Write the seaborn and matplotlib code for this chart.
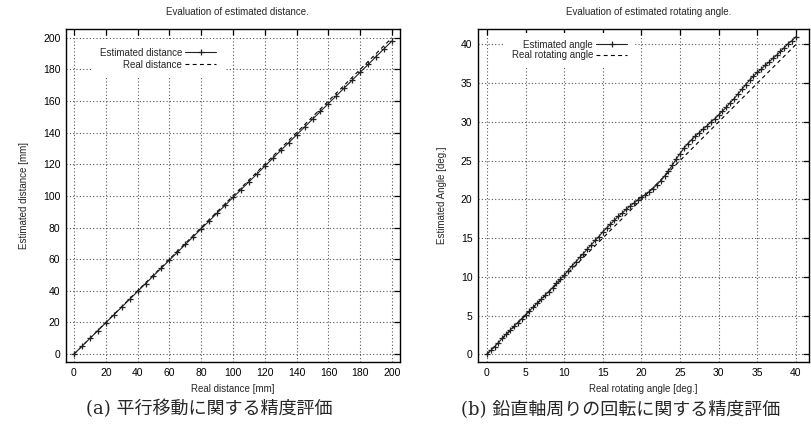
import numpy as np
import pandas as pd
import matplotlib
matplotlib.use("Agg")
import matplotlib.pyplot as plt
import seaborn as sns

# ---------------- data ----------------
real_dist = [0, 5, 10, 15, 20, 25, 30, 35, 40, 45, 50, 55, 60, 65, 70, 75, 80, 85, 90, 95,
             100, 105, 110, 115, 120, 125, 130, 135, 140, 145, 150, 155, 160, 165, 170, 175,
             180, 185, 190, 195, 200]
est_dist = [0.0, 4.9, 9.9, 14.8, 19.8, 24.7, 29.7, 34.6, 39.6, 44.5, 49.5, 54.4, 59.4, 64.3,
            69.3, 74.2, 79.2, 84.1, 89.1, 94.0, 99.0, 103.9, 108.9, 113.8, 118.8, 123.7,
            128.7, 133.6, 138.6, 143.5, 148.5, 153.4, 158.4, 163.3, 168.3, 173.2, 178.2,
            183.1, 188.1, 193.0, 198.0]

real_angle = [0.0, 0.5, 1.0, 1.5, 2.0, 2.5, 3.0, 3.5, 4.0, 4.5, 5.0, 5.5, 6.0, 6.5, 7.0, 7.5,
              8.0, 8.5, 9.0, 9.5, 10.0, 10.5, 11.0, 11.5, 12.0, 12.5, 13.0, 13.5, 14.0, 14.5,
              15.0, 15.5, 16.0, 16.5, 17.0, 17.5, 18.0, 18.5, 19.0, 19.5, 20.0, 20.5, 21.0,
              21.5, 22.0, 22.5, 23.0, 23.5, 24.0, 24.5, 25.0, 25.5, 26.0, 26.5, 27.0, 27.5,
              28.0, 28.5, 29.0, 29.5, 30.0, 30.5, 31.0, 31.5, 32.0, 32.5, 33.0, 33.5, 34.0,
              34.5, 35.0, 35.5, 36.0, 36.5, 37.0, 37.5, 38.0, 38.5, 39.0, 39.5, 40.0]
est_angle = [0.0, 0.5, 1.0, 1.5, 2.1, 2.6, 3.1, 3.6, 4.1, 4.6, 5.1, 5.6, 6.1, 6.6, 7.1, 7.6,
             8.1, 8.6, 9.2, 9.7, 10.2, 10.8, 11.4, 11.9, 12.5, 13.0, 13.6, 14.1, 14.7, 15.2,
             15.8, 16.3, 16.8, 17.3, 17.8, 18.2, 18.7, 19.1, 19.5, 19.9, 20.3, 20.6, 21.0,
             21.4, 21.9, 22.4, 23.0, 23.7, 24.4, 25.2, 25.9, 26.6, 27.2, 27.7, 28.2, 28.6,
             29.1, 29.5, 30.0, 30.4, 30.9, 31.4, 31.9, 32.5, 33.0, 33.6, 34.2, 34.8, 35.4,
             35.9, 36.4, 36.8, 37.3, 37.7, 38.2, 38.6, 39.1, 39.6, 40.1, 40.5, 41.0]

dist_ticks = [0, 20, 40, 60, 80, 100, 120, 140, 160, 180, 200]
angle_ticks = [0, 5, 10, 15, 20, 25, 30, 35, 40]

titles = ["Evaluation of estimated distance.", "Evaluation of estimated rotating angle."]
xlabels = ["Real distance [mm]", "Real rotating angle [deg.]"]
ylabels = ["Estimated distance [mm]", "Estimated Angle [deg.]"]
legend_labels = [("Estimated distance", "Real distance"),
                 ("Estimated angle", "Real rotating angle")]
captions = ["(a) 平行移動に関する精度評価", "(b) 鉛直軸周りの回転に関する精度評価"]

# ---------------- style ----------------
sns.set_theme(style="white")
plt.rcParams["font.family"] = ["Liberation Sans", "DejaVu Sans"]
plt.rcParams["axes.edgecolor"] = "black"
plt.rcParams["axes.linewidth"] = 1.0

W, H = 811, 428
fig = plt.figure(figsize=(W / 100, H / 100), dpi=100)

def px_axes(x0, y0, x1, y1):
    return fig.add_axes([x0 / W, 1 - y1 / H, (x1 - x0) / W, (y1 - y0) / H])

axL = px_axes(66, 29, 400, 362)
axR = px_axes(478, 29, 809, 362)

configs = [
    (axL, real_dist, est_dist, dist_ticks, (-5, 205), (-5, 205.5)),
    (axR, real_angle, est_angle, angle_ticks, (-1.15, 41.7), (-1.0, 42.0)),
]

for i, (ax, xr, ye, ticks, xl, yl) in enumerate(configs):
    df = pd.DataFrame({"real": xr, "est": ye})
    sns.lineplot(data=df, x="real", y="est", ax=ax, color="#222222", lw=0.8,
                 marker="+", markersize=4.5, markeredgewidth=0.9,
                 markeredgecolor="#222222", markerfacecolor="#222222",
                 label=legend_labels[i][0], zorder=3)
    sns.lineplot(data=df, x="real", y="real", ax=ax, color="black", lw=0.8,
                 linestyle=(0, (3.5, 3)), label=legend_labels[i][1], zorder=2)
    ax.set_xlim(*xl)
    ax.set_ylim(*yl)
    ax.set_xticks(ticks)
    ax.set_yticks(ticks)
    ax.grid(True, linestyle=(0, (1, 2)), color="#555555", linewidth=0.8)
    ax.set_axisbelow(True)
    ax.tick_params(direction="in", length=4, width=0.9, top=True, right=True,
                   labelsize=7.5, pad=4, colors="black")
    for s in ax.spines.values():
        s.set_visible(True)
        s.set_color("black")
        s.set_linewidth(1.0)
    ax.set_xlabel(xlabels[i], fontsize=7)
    ax.set_ylabel(ylabels[i], fontsize=7)

axL.xaxis.set_label_coords(0.5, -0.066)
axR.xaxis.set_label_coords(0.5, -0.066)
axL.yaxis.set_label_coords(-0.112, 0.5)
axR.yaxis.set_label_coords(-0.093, 0.5)

legL = axL.legend(loc="upper right", bbox_to_anchor=((225 - 66) / 334, 1 - (39 - 29) / 333),
                  markerfirst=False, frameon=True, fontsize=7, handlelength=3.2,
                  handletextpad=0.3, borderpad=0.9, labelspacing=0.2, borderaxespad=0)
legR = axR.legend(loc="upper right", bbox_to_anchor=((634 - 478) / 331, 1 - (33 - 29) / 333),
                  markerfirst=False, frameon=True, fontsize=7, handlelength=3.2,
                  handletextpad=0.3, borderpad=0.7, labelspacing=0.05, borderaxespad=0)
for leg in (legL, legR):
    fr = leg.get_frame()
    fr.set_facecolor("white")
    fr.set_edgecolor("none")
    fr.set_alpha(1)
    fr.set_boxstyle("square", pad=0)

fig.text(237 / W, 1 - 12 / H, titles[0], ha="center", va="center", fontsize=7)
fig.text(649 / W, 1 - 12 / H, titles[1], ha="center", va="center", fontsize=7)

cap_family = ["DejaVu Serif", "Noto Sans CJK JP"]
fig.text(209 / W, 1 - 409 / H, captions[0], ha="center", va="center", fontsize=13,
         family=cap_family)
fig.text(621 / W, 1 - 409 / H, captions[1], ha="center", va="center", fontsize=13,
         family=cap_family)

fig.savefig("out.png", dpi=100, facecolor="white")
